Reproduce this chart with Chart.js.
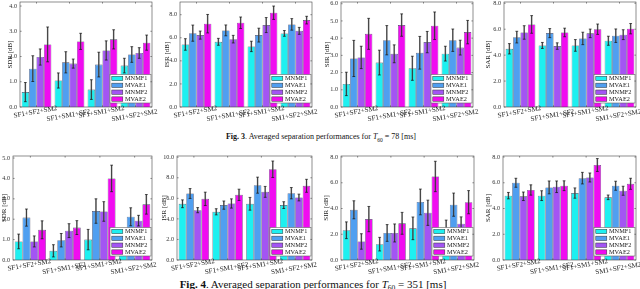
<!DOCTYPE html>
<html>
<head>
<meta charset="utf-8">
<script src="https://cdn.jsdelivr.net/npm/chart.js@4.4.1/dist/chart.umd.min.js"></script>
<style>
  html, body { margin: 0; padding: 0; background: #fff; }
  body { width: 640px; height: 289px; position: relative; overflow: hidden; }
  canvas { position: absolute; }
  .cap {
    position: absolute; left: 0; text-align: center;
    font-family: 'Liberation Serif', 'Times New Roman', serif;
    color: #111; white-space: nowrap;
  }
  .cap sub { line-height: 0; }
  #cap3 { top: 132.5px; width: 642px; font-size: 8px; line-height: 8px; }
  #cap3 sub { font-size: 5.5px; }
  #cap4 { top: 279px; width: 626px; font-size: 11px; line-height: 11px; }
  #cap4 sub { font-size: 7.5px; }
</style>
</head>
<body>
<canvas id="c0"></canvas><canvas id="c1"></canvas><canvas id="c2"></canvas><canvas id="c3"></canvas>
<canvas id="c4"></canvas><canvas id="c5"></canvas><canvas id="c6"></canvas><canvas id="c7"></canvas>
<div class="cap" id="cap3"><b>Fig. 3</b>. Averaged separation performances for <i>T</i><sub>60</sub> = 78 [ms]</div>
<div class="cap" id="cap4"><b>Fig. 4</b>. Averaged separation performances for <i>T</i><sub>60</sub> = 351 [ms]</div>
<script>
const categories = ['SF1+SF2+SM2', 'SF1+SM1+SF2', 'SF1+SM1+SM2', 'SM1+SF2+SM2'];
const methods = ['MNMF1', 'MVAE1', 'MNMF2', 'MVAE2'];
const colors = ['#1ef0f0', '#509ff0', '#a355f3', '#f00cf0'];

// T60 = 78 ms  (rows: MNMF1, MVAE1, MNMF2, MVAE2)
const sdr78 = [[0.59, 1.05, 0.69, 1.64], [1.52, 1.77, 1.68, 2.08], [1.98, 1.72, 2.24, 2.14], [2.48, 2.60, 2.68, 2.55]];
const sdr78Err = [[0.38, 0.30, 0.39, 0.29], [0.51, 0.42, 0.49, 0.31], [0.32, 0.18, 0.38, 0.21], [0.69, 0.32, 0.38, 0.30]];
const isr78 = [[5.42, 5.65, 5.25, 6.38], [6.40, 6.64, 6.23, 7.16], [6.23, 5.88, 7.10, 6.60], [7.22, 7.30, 8.17, 7.53]];
const isr78Err = [[0.50, 0.30, 0.45, 0.25], [0.70, 0.47, 0.60, 0.50], [0.35, 0.33, 0.65, 0.30], [0.80, 0.50, 0.58, 0.33]];
const sir78 = [[1.34, 2.58, 2.25, 3.10], [2.82, 3.88, 3.15, 3.88], [2.88, 3.09, 3.77, 3.45], [4.25, 4.76, 4.72, 4.35]];
const sir78Err = [[0.68, 0.72, 0.70, 0.43], [1.05, 0.85, 0.95, 0.65], [0.65, 0.52, 0.62, 0.43], [0.90, 0.65, 0.80, 0.68]];
const sar78 = [[4.49, 4.75, 4.75, 5.11], [5.39, 5.70, 5.29, 5.50], [5.75, 4.70, 5.68, 5.58], [6.37, 5.75, 6.00, 6.04]];
const sar78Err = [[0.40, 0.23, 0.45, 0.35], [0.45, 0.35, 0.48, 0.52], [0.52, 0.25, 0.33, 0.38], [0.68, 0.33, 0.40, 0.40]];

// T60 = 351 ms
const sdr351 = [[0.91, 0.45, 1.00, 1.05], [2.08, 0.97, 2.40, 2.12], [0.91, 1.44, 2.38, 1.93], [1.48, 1.59, 4.00, 2.73]];
const sdr351Err = [[0.36, 0.30, 0.50, 0.35], [0.42, 0.33, 0.60, 0.44], [0.27, 0.34, 0.48, 0.26], [0.44, 0.34, 0.65, 0.48]];
const isr351 = [[5.47, 4.69, 5.47, 5.34], [6.47, 5.34, 7.28, 6.50], [4.85, 5.50, 6.63, 6.08], [5.95, 6.34, 8.83, 7.22]];
const isr351Err = [[0.38, 0.30, 0.62, 0.33], [0.48, 0.40, 0.78, 0.55], [0.25, 0.45, 0.53, 0.33], [0.65, 0.55, 0.80, 0.63]];
const sir351 = [[2.31, 1.23, 2.46, 2.30], [3.90, 2.10, 4.51, 4.30], [1.44, 2.10, 3.67, 2.82], [3.18, 2.85, 6.49, 4.49]];
const sir351Err = [[0.65, 0.53, 0.88, 0.80], [0.70, 0.65, 1.00, 0.90], [0.60, 0.70, 0.98, 0.53], [0.98, 0.85, 1.18, 0.90]];
const sar351 = [[5.00, 5.00, 5.20, 4.87], [6.00, 5.64, 6.36, 5.77], [4.95, 5.69, 6.41, 5.38], [5.44, 5.77, 7.38, 5.92]];
const sar351Err = [[0.25, 0.38, 0.40, 0.18], [0.35, 0.50, 0.45, 0.35], [0.33, 0.45, 0.35, 0.35], [0.40, 0.38, 0.50, 0.43]];

const SERIF = "'Liberation Serif', 'Times New Roman', serif";
const AXIS_W = 24, PAD_R = 14, PAD_B = 18;

// left, right, top, bottom of each plot box on the page
const panels = [
  { id: 'c0', box: [20, 152, 2, 107], title: 'SDR [dB]', yMax: 4.16, step: 1, vals: sdr78, errs: sdr78Err, tOff: 10 },
  { id: 'c1', box: [180, 312, 2, 107], title: 'ISR [dB]', yMax: 9.1, step: 2, vals: isr78, errs: isr78Err, tOff: 13 },
  { id: 'c2', box: [341, 473, 2, 107], title: 'SIR [dB]', yMax: 6.1, step: 1, vals: sir78, errs: sir78Err, tOff: 14 },
  { id: 'c3', box: [504, 636, 2, 107], title: 'SAR [dB]', yMax: 8.1, step: 2, vals: sar78, errs: sar78Err, tOff: 16 },
  { id: 'c4', box: [13, 152, 156, 260], title: 'SDR [dB]', yMax: 5.1, step: 1, vals: sdr351, errs: sdr351Err, tOff: 9 },
  { id: 'c5', box: [177, 312, 156, 260], title: 'ISR [dB]', yMax: 10.12, step: 2, vals: isr351, errs: isr351Err, tOff: 13 },
  { id: 'c6', box: [341, 474, 156, 260], title: 'SIR [dB]', yMax: 8.08, step: 2, vals: sir351, errs: sir351Err, tOff: 15 },
  { id: 'c7', box: [503, 636, 156, 260], title: 'SAR [dB]', yMax: 8.08, step: 2, vals: sar351, errs: sar351Err, tOff: 15 }
];

const panelPlugin = {
  id: 'panel',
  afterDatasetsDraw(chart, args, opts) {
    const ctx = chart.ctx, xs = chart.scales.x, ys = chart.scales.y, a = chart.chartArea;
    ctx.save();
    // error bars
    chart.data.datasets.forEach((ds, di) => {
      chart.getDatasetMeta(di).data.forEach((bar, i) => {
        const v = ds.data[i], e = ds.errors[i];
        const y1 = ys.getPixelForValue(v + e), y2 = ys.getPixelForValue(v - e);
        ctx.strokeStyle = 'rgba(125,125,125,0.75)';
        ctx.lineWidth = 1.6;
        ctx.beginPath(); ctx.moveTo(bar.x, y1); ctx.lineTo(bar.x, y2); ctx.stroke();
        ctx.strokeStyle = '#111';
        ctx.lineWidth = 0.7;
        ctx.beginPath();
        ctx.moveTo(bar.x - 1.4, y1); ctx.lineTo(bar.x + 1.4, y1);
        ctx.moveTo(bar.x - 1.4, y2); ctx.lineTo(bar.x + 1.4, y2);
        ctx.moveTo(bar.x, y1); ctx.lineTo(bar.x, y2);
        ctx.stroke();
      });
    });
    // legend box, bottom right inside the axes
    const lw = 41, lh = 28.5;
    const lx = a.right - 1 - lw, ly = a.bottom - 4 - lh;
    ctx.fillStyle = '#fff';
    ctx.fillRect(lx, ly, lw, lh);
    ctx.strokeStyle = '#666';
    ctx.lineWidth = 0.6;
    ctx.strokeRect(lx, ly, lw, lh);
    ctx.font = '6.3px ' + SERIF;
    ctx.textBaseline = 'middle';
    ctx.textAlign = 'left';
    chart.data.datasets.forEach((ds, di) => {
      const cy = ly + 4 + di * 6.85;
      ctx.fillStyle = ds.backgroundColor;
      ctx.fillRect(lx + 1.8, cy - 2.2, 11, 4.4);
      ctx.strokeStyle = '#333';
      ctx.lineWidth = 0.5;
      ctx.strokeRect(lx + 1.8, cy - 2.2, 11, 4.4);
      ctx.fillStyle = '#222';
      ctx.fillText(ds.label, lx + 15, cy + 0.3);
    });
    // axes box with inward ticks
    ctx.strokeStyle = '#444';
    ctx.lineWidth = 0.6;
    ctx.strokeRect(a.left, a.top, a.right - a.left, a.bottom - a.top);
    ctx.beginPath();
    ys.ticks.forEach(t => {
      const py = ys.getPixelForValue(t.value);
      ctx.moveTo(a.left, py); ctx.lineTo(a.left + 1.6, py);
      ctx.moveTo(a.right, py); ctx.lineTo(a.right - 1.6, py);
    });
    categories.forEach((c, i) => {
      const px = xs.getPixelForValue(i);
      ctx.moveTo(px, a.top); ctx.lineTo(px, a.top + 1.6);
      ctx.moveTo(px, a.bottom); ctx.lineTo(px, a.bottom - 1.6);
    });
    ctx.stroke();
    ctx.restore();
  },
  afterDraw(chart, args, opts) {
    const ctx = chart.ctx, xs = chart.scales.x, a = chart.chartArea;
    ctx.save();
    ctx.fillStyle = '#222';
    ctx.font = '7px ' + SERIF;
    ctx.textAlign = 'center';
    ctx.textBaseline = 'middle';
    categories.forEach((c, i) => {
      const px = xs.getPixelForValue(i);
      ctx.save();
      ctx.translate(px - 1, a.bottom + 5 + (i % 2) * 3.5);
      ctx.rotate(-10 * Math.PI / 180);
      ctx.fillText(c, 0, 0);
      ctx.restore();
    });
    ctx.save();
    ctx.font = '7px ' + SERIF;
    ctx.translate(a.left - opts.tOff, (a.top + a.bottom) / 2);
    ctx.rotate(-Math.PI / 2);
    ctx.fillText(opts.title, 0, 0);
    ctx.restore();
    ctx.restore();
  }
};

panels.forEach(p => {
  const [L, R, T, B] = p.box;
  const cv = document.getElementById(p.id);
  const w = AXIS_W + (R - L) + PAD_R, h = 2 + (B - T) + PAD_B;
  cv.width = w; cv.height = h;
  cv.style.left = (L - AXIS_W) + 'px';
  cv.style.top = (T - 2) + 'px';
  cv.style.width = w + 'px';
  cv.style.height = h + 'px';

  new Chart(cv, {
    type: 'bar',
    data: {
      labels: categories,
      datasets: methods.map((m, k) => ({
        label: m,
        data: p.vals[k],
        errors: p.errs[k],
        backgroundColor: colors[k],
        borderColor: 'rgba(40,40,70,0.85)',
        borderWidth: 0.6,
        borderSkipped: 'start',
        barPercentage: 1.0,
        categoryPercentage: 0.9
      }))
    },
    options: {
      responsive: false,
      animation: false,
      devicePixelRatio: 1,
      layout: { padding: { top: 2, left: 0, right: PAD_R, bottom: PAD_B } },
      plugins: {
        legend: { display: false },
        tooltip: { enabled: false },
        panel: { title: p.title, tOff: p.tOff }
      },
      scales: {
        x: { display: false, offset: true, grid: { display: false } },
        y: {
          min: 0,
          max: p.yMax,
          grid: { display: false, drawTicks: false },
          border: { display: false },
          ticks: {
            stepSize: p.step,
            includeBounds: false,
            padding: 3,
            color: '#333',
            font: { family: SERIF, size: 6.2 },
            callback: v => v.toFixed(1)
          },
          afterFit(scale) {
            scale.width = AXIS_W;
            scale.paddingTop = 0;
            scale.paddingBottom = 0;
          }
        }
      }
    },
    plugins: [panelPlugin]
  });
});
</script>
</body>
</html>
